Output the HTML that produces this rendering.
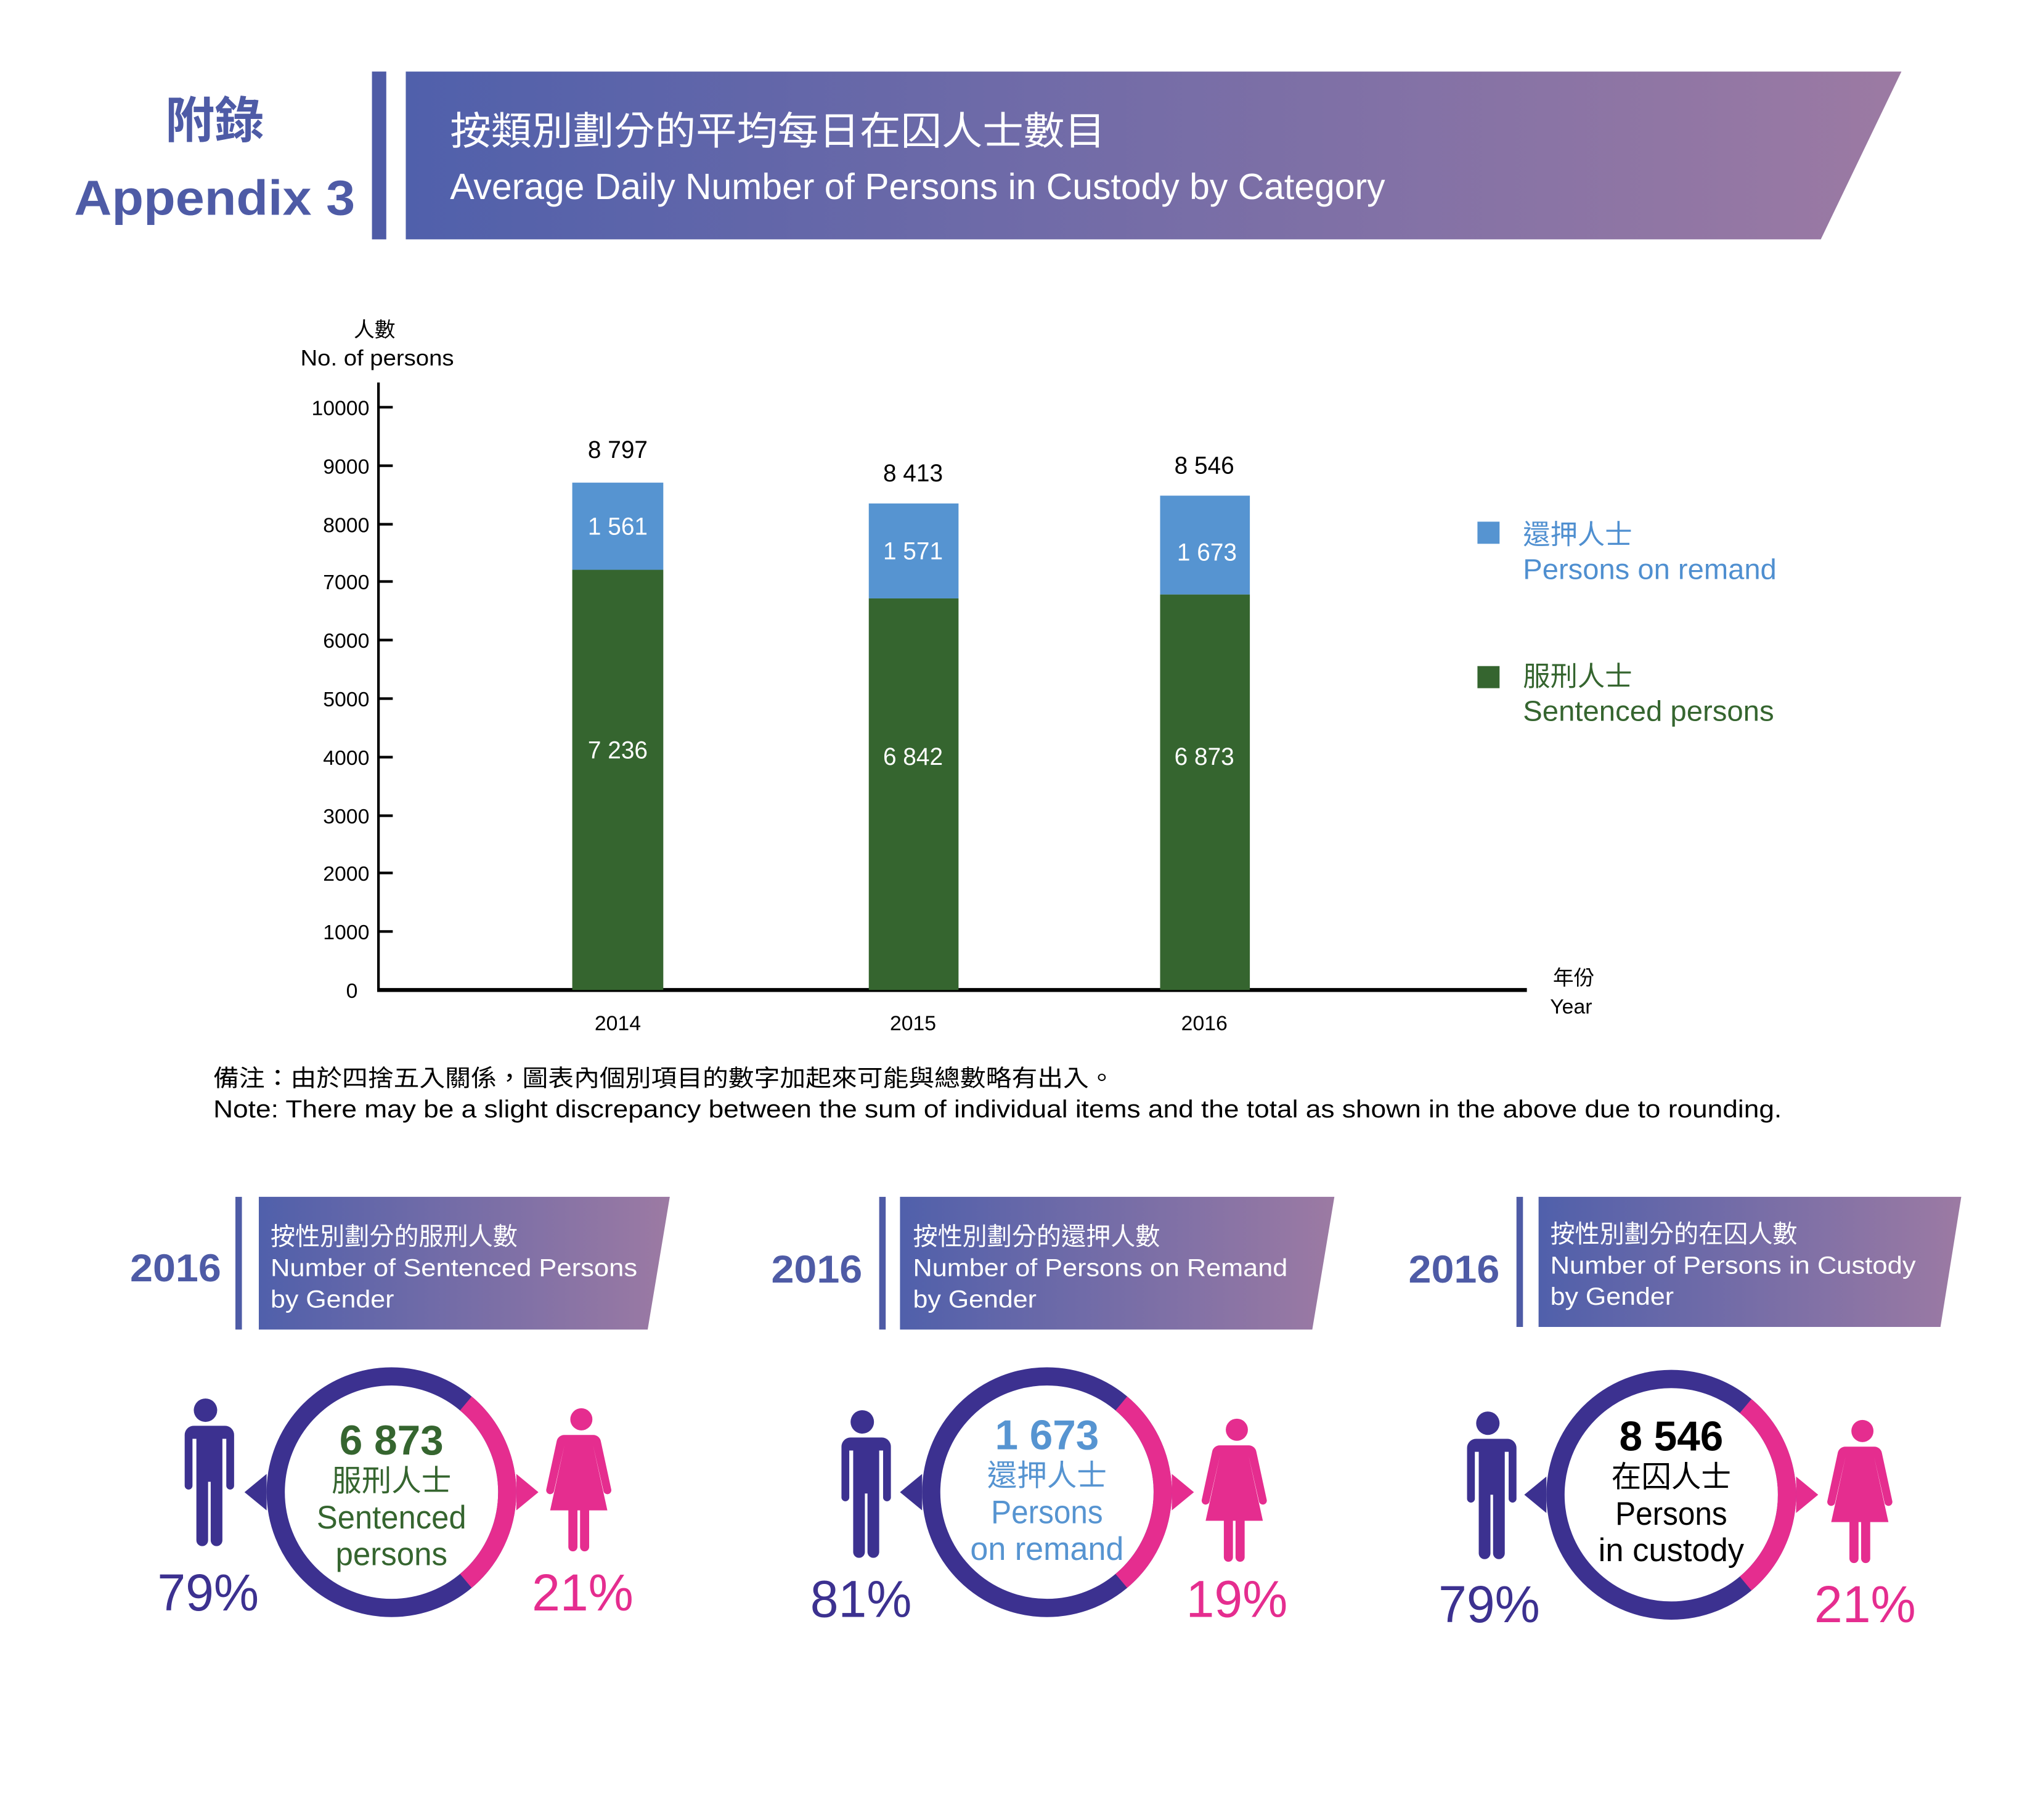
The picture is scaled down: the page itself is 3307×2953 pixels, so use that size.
<!DOCTYPE html>
<html><head><meta charset="utf-8">
<style>
html,body{margin:0;padding:0;background:#fff;}
svg{display:block;}
text{font-family:"Liberation Sans","Noto Sans CJK TC",sans-serif;}
</style></head>
<body>
<svg width="3307" height="2953" viewBox="0 0 1567 1399" preserveAspectRatio="none" xmlns="http://www.w3.org/2000/svg">
<defs>
<linearGradient id="g" x1="0" x2="1" y1="0" y2="0">
<stop offset="0" stop-color="#5060ab"/><stop offset="1" stop-color="#9c7aa3"/>
</linearGradient>
<g id="man" fill="#3c3190">
<circle cx="0" cy="0" r="9"/>
<path d="M-15,12 h30 a7,7 0 0 1 7,7 v39 a3,3 0 0 1 -6,0 v-36 h-3 v78 a4.5,4.5 0 0 1 -9,0 v-45 h-2 v45 a4.5,4.5 0 0 1 -9,0 v-78 h-3 v36 a3,3 0 0 1 -6,0 v-39 a7,7 0 0 1 7,-7z"/>
</g>
<g id="woman" fill="#e52d8f">
<circle cx="0" cy="0" r="8.5"/>
<path d="M-9,12 h18 a6,6 0 0 1 6,5 l8,37 a3,3 0 0 1 -6,1 l-8,-35 l11,50 h-14 v28 a3.5,3.5 0 0 1 -7,0 v-28 h-2 v28 a3.5,3.5 0 0 1 -7,0 v-28 h-14 l11,-50 l-8,35 a3,3 0 0 1 -6,-1 l8,-37 a6,6 0 0 1 6,-5z"/>
</g>
<g id="ring">
<circle cx="0" cy="0" r="89" fill="none" stroke="#3c3190" stroke-width="14"/>
<path d="M57.2,-68.2 A89,89 0 0 1 57.2,68.2" fill="none" stroke="#e52d8f" stroke-width="14"/>
<path d="M-96,-14 L-113,0 L-96,14z" fill="#3c3190"/>
<path d="M96,-14 L113,0 L96,14z" fill="#e52d8f"/>
</g>
</defs>

<!-- header -->
<text x="165" y="106" font-size="38" font-weight="bold" fill="#4e5ba6" text-anchor="middle">附錄</text>
<text x="165" y="165" font-size="38" font-weight="bold" fill="#4e5ba6" text-anchor="middle" textLength="216" lengthAdjust="spacingAndGlyphs">Appendix 3</text>
<rect x="286" y="55" width="11" height="129" fill="#4e5ba6"/>
<polygon points="312,55 1462,55 1400,184 312,184" fill="url(#g)"/>
<text x="346" y="111" font-size="30" fill="#fff" textLength="504" lengthAdjust="spacingAndGlyphs">按類別劃分的平均每日在囚人士數目</text>
<text x="346" y="153" font-size="28" fill="#fff" textLength="719" lengthAdjust="spacingAndGlyphs">Average Daily Number of Persons in Custody by Category</text>

<!-- chart -->
<text x="288" y="259" font-size="16" text-anchor="middle">人數</text>
<text x="290" y="281" font-size="17" text-anchor="middle" textLength="118" lengthAdjust="spacingAndGlyphs">No. of persons</text>
<line x1="291" y1="294" x2="291" y2="762" stroke="#000" stroke-width="2"/>
<line x1="290" y1="761" x2="1174" y2="761" stroke="#000" stroke-width="3"/>
<g stroke="#000" stroke-width="2">
<line x1="291" y1="313" x2="302" y2="313"/><line x1="291" y1="358" x2="302" y2="358"/><line x1="291" y1="403" x2="302" y2="403"/><line x1="291" y1="447" x2="302" y2="447"/><line x1="291" y1="492" x2="302" y2="492"/><line x1="291" y1="537" x2="302" y2="537"/><line x1="291" y1="582" x2="302" y2="582"/><line x1="291" y1="627" x2="302" y2="627"/><line x1="291" y1="671" x2="302" y2="671"/><line x1="291" y1="716" x2="302" y2="716"/>
</g>
<g font-size="16" text-anchor="end">
<text x="284" y="319">10000</text><text x="284" y="364">9000</text><text x="284" y="409">8000</text><text x="284" y="453">7000</text><text x="284" y="498">6000</text><text x="284" y="543">5000</text><text x="284" y="588">4000</text><text x="284" y="633">3000</text><text x="284" y="677">2000</text><text x="284" y="722">1000</text><text x="275" y="767">0</text>
</g>
<rect x="440" y="371" width="70" height="67" fill="#5694d1"/>
<rect x="440" y="438" width="70" height="323" fill="#35652f"/>
<rect x="668" y="387" width="69" height="73" fill="#5694d1"/>
<rect x="668" y="460" width="69" height="301" fill="#35652f"/>
<rect x="892" y="381" width="69" height="76" fill="#5694d1"/>
<rect x="892" y="457" width="69" height="304" fill="#35652f"/>
<g font-size="19" text-anchor="middle">
<text x="475" y="352" textLength="46" lengthAdjust="spacingAndGlyphs">8 797</text><text x="702" y="370" textLength="46" lengthAdjust="spacingAndGlyphs">8 413</text><text x="926" y="364" textLength="46" lengthAdjust="spacingAndGlyphs">8 546</text>
<g fill="#fff"><text x="475" y="411" textLength="46" lengthAdjust="spacingAndGlyphs">1 561</text><text x="702" y="430" textLength="46" lengthAdjust="spacingAndGlyphs">1 571</text><text x="928" y="431" textLength="46" lengthAdjust="spacingAndGlyphs">1 673</text>
<text x="475" y="583" textLength="46" lengthAdjust="spacingAndGlyphs">7 236</text><text x="702" y="588" textLength="46" lengthAdjust="spacingAndGlyphs">6 842</text><text x="926" y="588" textLength="46" lengthAdjust="spacingAndGlyphs">6 873</text></g>
</g>
<g font-size="16" text-anchor="middle">
<text x="475" y="792">2014</text><text x="702" y="792">2015</text><text x="926" y="792">2016</text>
<text x="1210" y="757">年份</text><text x="1208" y="779">Year</text>
</g>
<rect x="1136" y="401" width="17" height="17" fill="#5694d1"/>
<text x="1171" y="418" font-size="21" fill="#4f8fd0">還押人士</text>
<text x="1171" y="445" font-size="22" fill="#4f8fd0" textLength="195" lengthAdjust="spacingAndGlyphs">Persons on remand</text>
<rect x="1136" y="512" width="17" height="17" fill="#35652f"/>
<text x="1171" y="527" font-size="21" fill="#35652f">服刑人士</text>
<text x="1171" y="554" font-size="22" fill="#35652f" textLength="193" lengthAdjust="spacingAndGlyphs">Sentenced persons</text>

<text x="164" y="835" font-size="18" textLength="693" lengthAdjust="spacingAndGlyphs">備注：由於四捨五入關係，圖表內個別項目的數字加起來可能與總數略有出入。</text>
<text x="164" y="859" font-size="19" textLength="1206" lengthAdjust="spacingAndGlyphs">Note: There may be a slight discrepancy between the sum of individual items and the total as shown in the above due to rounding.</text>

<!-- panel 1 -->
<text x="135" y="985" font-size="30" font-weight="bold" fill="#4e5ba6" text-anchor="middle" textLength="70" lengthAdjust="spacingAndGlyphs">2016</text>
<rect x="181" y="920" width="5" height="102" fill="#4e5ba6"/>
<polygon points="199,920 515,920 498,1022 199,1022" fill="url(#g)"/>
<g font-size="19" fill="#fff"><text x="208" y="957">按性別劃分的服刑人數</text>
<text x="208" y="981" textLength="282" lengthAdjust="spacingAndGlyphs">Number of Sentenced Persons</text><text x="208" y="1005" textLength="95" lengthAdjust="spacingAndGlyphs">by Gender</text></g>
<use href="#ring" x="301" y="1147"/>
<use href="#man" x="158" y="1084"/>
<use href="#woman" x="447" y="1091"/>
<g text-anchor="middle" fill="#35652f">
<text x="301" y="1118" font-size="32" font-weight="bold" textLength="80" lengthAdjust="spacingAndGlyphs">6 873</text>
<text x="301" y="1146" font-size="23">服刑人士</text>
<text x="301" y="1175" font-size="25" textLength="115" lengthAdjust="spacingAndGlyphs">Sentenced</text>
<text x="301" y="1203" font-size="25" textLength="86" lengthAdjust="spacingAndGlyphs">persons</text></g>
<text x="160" y="1238" font-size="40" fill="#3c3190" text-anchor="middle" textLength="78" lengthAdjust="spacingAndGlyphs">79%</text>
<text x="448" y="1238" font-size="40" fill="#e52d8f" text-anchor="middle" textLength="78" lengthAdjust="spacingAndGlyphs">21%</text>

<!-- panel 2 -->
<text x="628" y="986" font-size="30" font-weight="bold" fill="#4e5ba6" text-anchor="middle" textLength="70" lengthAdjust="spacingAndGlyphs">2016</text>
<rect x="676" y="920" width="5" height="102" fill="#4e5ba6"/>
<polygon points="692,920 1026,920 1009,1022 692,1022" fill="url(#g)"/>
<g font-size="19" fill="#fff"><text x="702" y="957">按性別劃分的還押人數</text>
<text x="702" y="981" textLength="288" lengthAdjust="spacingAndGlyphs">Number of Persons on Remand</text><text x="702" y="1005" textLength="95" lengthAdjust="spacingAndGlyphs">by Gender</text></g>
<use href="#ring" x="805" y="1147"/>
<use href="#man" x="663" y="1093"/>
<use href="#woman" x="951" y="1099"/>
<g text-anchor="middle" fill="#5694d1">
<text x="805" y="1114" font-size="32" font-weight="bold" textLength="80" lengthAdjust="spacingAndGlyphs">1 673</text>
<text x="805" y="1142" font-size="23">還押人士</text>
<text x="805" y="1171" font-size="25" textLength="86" lengthAdjust="spacingAndGlyphs">Persons</text>
<text x="805" y="1199" font-size="25" textLength="118" lengthAdjust="spacingAndGlyphs">on remand</text></g>
<text x="662" y="1243" font-size="40" fill="#3c3190" text-anchor="middle" textLength="78" lengthAdjust="spacingAndGlyphs">81%</text>
<text x="951" y="1243" font-size="40" fill="#e52d8f" text-anchor="middle" textLength="78" lengthAdjust="spacingAndGlyphs">19%</text>

<!-- panel 3 -->
<text x="1118" y="986" font-size="30" font-weight="bold" fill="#4e5ba6" text-anchor="middle" textLength="70" lengthAdjust="spacingAndGlyphs">2016</text>
<rect x="1166" y="920" width="5" height="100" fill="#4e5ba6"/>
<polygon points="1183,920 1508,920 1492,1020 1183,1020" fill="url(#g)"/>
<g font-size="19" fill="#fff"><text x="1192" y="955">按性別劃分的在囚人數</text>
<text x="1192" y="979" textLength="281" lengthAdjust="spacingAndGlyphs">Number of Persons in Custody</text><text x="1192" y="1003" textLength="95" lengthAdjust="spacingAndGlyphs">by Gender</text></g>
<use href="#ring" x="1285" y="1149"/>
<use href="#man" x="1144" y="1094"/>
<use href="#woman" x="1432" y="1100"/>
<g text-anchor="middle" fill="#000">
<text x="1285" y="1115" font-size="32" font-weight="bold" textLength="80" lengthAdjust="spacingAndGlyphs">8 546</text>
<text x="1285" y="1143" font-size="23">在囚人士</text>
<text x="1285" y="1172" font-size="25" textLength="86" lengthAdjust="spacingAndGlyphs">Persons</text>
<text x="1285" y="1200" font-size="25" textLength="112" lengthAdjust="spacingAndGlyphs">in custody</text></g>
<text x="1145" y="1247" font-size="40" fill="#3c3190" text-anchor="middle" textLength="78" lengthAdjust="spacingAndGlyphs">79%</text>
<text x="1434" y="1247" font-size="40" fill="#e52d8f" text-anchor="middle" textLength="78" lengthAdjust="spacingAndGlyphs">21%</text>
</svg>
</body></html>
